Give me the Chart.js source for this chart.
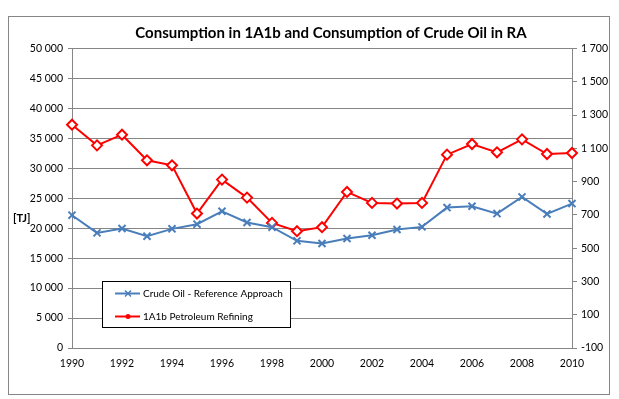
<!DOCTYPE html>
<html lang="en">

<head>
   <meta charset="UTF-8">
   <title>Consumption in 1A1b and Crude Oil in RA</title>
   <style>
      body { margin: 0; background: #fff; }
      #wrap { width: 619px; height: 399px; position: relative; }
   </style>
</head>

<body>
   <div id="wrap"><canvas id="line-chart" width="619" height="399"></canvas></div>
   <script src="https://cdn.jsdelivr.net/npm/chart.js"></script>
   <script>
      // data
      const years = [1990, 1991, 1992, 1993, 1994, 1995, 1996, 1997, 1998, 1999, 2000,
         2001, 2002, 2003, 2004, 2005, 2006, 2007, 2008, 2009, 2010];
      // left axis [TJ]
      const crudeOil = [22170, 19220, 19950, 18670, 19890, 20670, 22830, 20950, 20170, 17890, 17440,
         18280, 18830, 19780, 20220, 23440, 23670, 22440, 25220, 22390, 24110];
      // right axis
      const refining = [1242, 1118, 1182, 1028, 998, 708, 912, 804, 652, 602, 626,
         838, 772, 768, 772, 1062, 1126, 1076, 1154, 1066, 1072];
      const seriesNames = ["Crude Oil - Reference Approach", "1A1b Petroleum Refining"];
      const chartTitle = "Consumption in 1A1b and Consumption of Crude Oil in RA";
      const unitLabel = "[TJ]";

      const blue = "#4a7ebb";
      const red = "#ff0000";
      const grey = "#868686";
      const font = "Lato";
      const tickFont = { family: font, size: 10.5 };

      function spaced(v) {
         return String(v).replace(/\B(?=(\d{3})+(?!\d))/g, " ");
      }

      // frame, title, [TJ] label and the boxed legend
      const extras = {
         id: "extras",
         afterDraw(chart) {
            const ctx = chart.ctx;
            ctx.save();
            ctx.strokeStyle = grey;
            ctx.lineWidth = 1;
            ctx.strokeRect(8.5, 16.5, 601, 378);

            ctx.fillStyle = "#000";
            ctx.textBaseline = "middle";
            ctx.font = "bold 15px " + font;
            ctx.textAlign = "center";
            ctx.fillText(chartTitle, 331, 33);

            ctx.textAlign = "left";
            ctx.font = "bold 11px " + font;
            ctx.fillText(unitLabel, 13, 218);

            // legend box
            ctx.fillStyle = "#fff";
            ctx.fillRect(102.5, 281.5, 188, 46);
            ctx.strokeStyle = "#000";
            ctx.strokeRect(102.5, 281.5, 188, 46);

            const rows = [
               { y: 293.5, color: blue, name: seriesNames[0], mark: "x" },
               { y: 316.5, color: red, name: seriesNames[1], mark: "dot" }
            ];
            rows.forEach(r => {
               ctx.strokeStyle = r.color;
               ctx.fillStyle = r.color;
               ctx.lineWidth = 2;
               ctx.beginPath();
               ctx.moveTo(115, r.y);
               ctx.lineTo(140, r.y);
               ctx.stroke();
               if (r.mark === "x") {
                  ctx.lineWidth = 1.5;
                  ctx.beginPath();
                  ctx.moveTo(125, r.y - 3); ctx.lineTo(131, r.y + 3);
                  ctx.moveTo(125, r.y + 3); ctx.lineTo(131, r.y - 3);
                  ctx.stroke();
               } else {
                  ctx.beginPath();
                  ctx.arc(128, r.y, 2.5, 0, Math.PI * 2);
                  ctx.fill();
               }
               ctx.fillStyle = "#000";
               ctx.font = "10px " + font;
               ctx.fillText(r.name, 143, r.y);
            });
            ctx.restore();
         }
      };

      new Chart(document.getElementById("line-chart"), {
         type: "line",
         data: {
            labels: years,
            datasets: [
               {
                  label: seriesNames[0],
                  data: crudeOil,
                  yAxisID: "y",
                  borderColor: blue,
                  backgroundColor: blue,
                  borderWidth: 2,
                  pointStyle: "crossRot",
                  pointRadius: 5,
                  pointBorderWidth: 2,
                  tension: 0
               },
               {
                  label: seriesNames[1],
                  data: refining,
                  yAxisID: "y2",
                  borderColor: red,
                  backgroundColor: "#fff",
                  borderWidth: 2,
                  pointStyle: "rectRot",
                  pointRadius: 5,
                  pointBorderWidth: 2,
                  tension: 0
               }
            ]
         },
         options: {
            responsive: false,
            animation: false,
            layout: { padding: { top: 48.5 } },
            plugins: {
               legend: { display: false },
               tooltip: { enabled: false },
               title: { display: false }
            },
            scales: {
               x: {
                  type: "category",
                  offset: false,
                  grid: { drawOnChartArea: false, drawTicks: false },
                  border: { color: grey },
                  ticks: {
                     autoSkip: false,
                     maxRotation: 0,
                     padding: 9,
                     color: "#000",
                     font: tickFont,
                     callback: function (v, i) { return years[i] % 2 === 0 ? years[i] : ""; }
                  },
                  afterFit: s => { s.height = 51; }
               },
               y: {
                  position: "left",
                  min: 0,
                  max: 50000,
                  grid: { color: grey, tickLength: 4 },
                  border: { color: grey },
                  ticks: {
                     stepSize: 5000,
                     padding: 5,
                     color: "#000",
                     font: tickFont,
                     callback: v => spaced(v)
                  },
                  afterFit: s => { s.width = 72; }
               },
               y2: {
                  position: "right",
                  min: -100,
                  max: 1700,
                  grid: { drawOnChartArea: false, color: grey, tickLength: 5 },
                  border: { color: grey },
                  ticks: {
                     stepSize: 200,
                     padding: 4,
                     color: "#000",
                     font: tickFont,
                     callback: v => spaced(v)
                  },
                  afterFit: s => { s.width = 47; }
               }
            }
         },
         plugins: [extras]
      });
   </script>
</body>

</html>
